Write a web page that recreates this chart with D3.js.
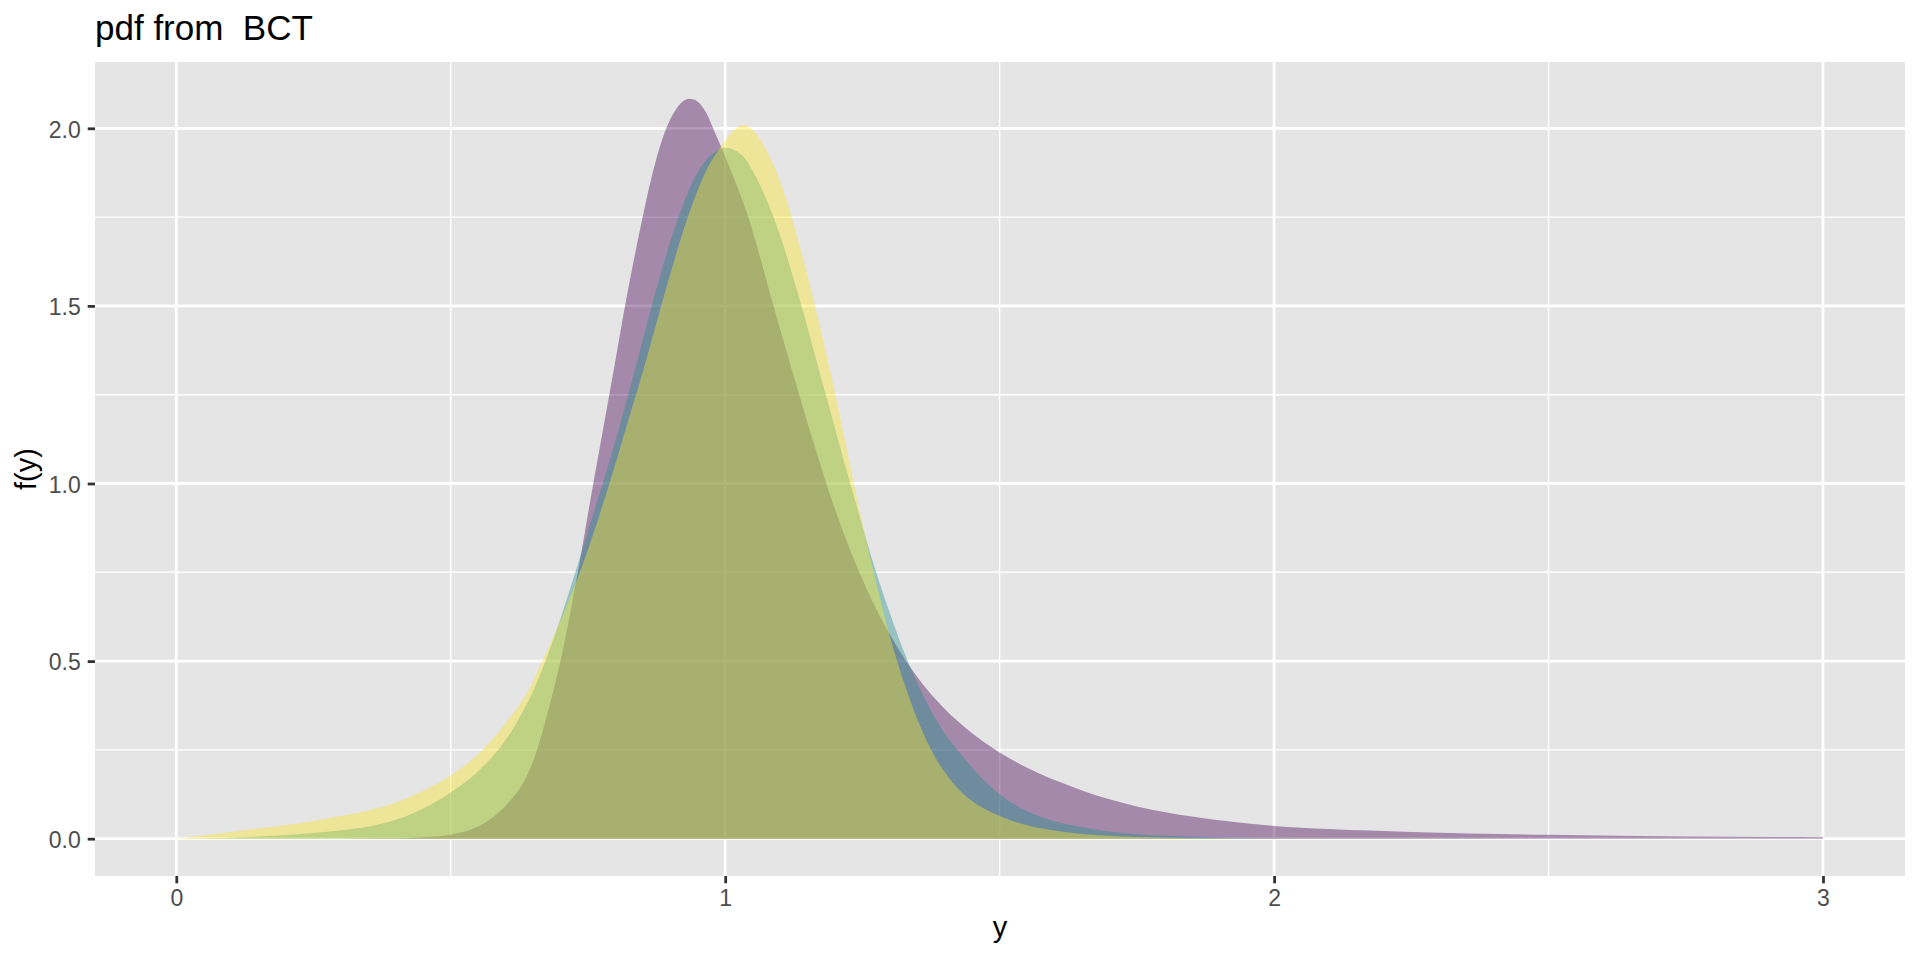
<!DOCTYPE html>
<html>
<head>
<meta charset="utf-8">
<script src="https://cdn.jsdelivr.net/npm/d3@7"></script>
<style>
  html, body { margin: 0; padding: 0; background: #ffffff; }
  svg { display: block; font-family: "Liberation Sans", Arial, Helvetica, sans-serif; }
</style>
</head>
<body>
<svg id="chart" width="1920" height="960"></svg>
<script>
// ---- data ----
const seriesNames = ["purple", "teal", "yellow"];
const seriesColors = ["#440154", "#21908C", "#FDE725"];

const purpleX = [0, 0.3, 0.4, 0.45, 0.5, 0.55, 0.585, 0.609, 0.635, 0.655, 0.68, 0.70, 0.7315, 0.754, 0.776, 0.797, 0.8175, 0.8455, 0.8655, 0.8855, 0.905, 0.92, 0.935, 0.95, 0.965, 0.978, 1.0, 1.042, 1.088, 1.127, 1.16, 1.195, 1.25, 1.3, 1.35, 1.4, 1.45, 1.5, 1.55, 1.6, 1.65, 1.7, 1.75, 1.8, 1.9, 2.0, 2.1, 2.25, 2.5, 2.75, 3.0];
const purpleY = [0, 0, 0.001, 0.004, 0.011, 0.034, 0.071, 0.108, 0.165, 0.24, 0.375, 0.5, 0.75, 0.95, 1.14, 1.32, 1.5, 1.72, 1.86, 1.97, 2.04, 2.072, 2.083, 2.075, 2.045, 2.0, 1.92, 1.75, 1.5, 1.291, 1.12, 0.95, 0.73, 0.575, 0.455, 0.365, 0.297, 0.243, 0.2, 0.165, 0.136, 0.111, 0.091, 0.075, 0.052, 0.036, 0.027, 0.019, 0.011, 0.0065, 0.004];

const tealX = [0, 0.1, 0.2, 0.25, 0.3, 0.35, 0.4, 0.45, 0.5, 0.55, 0.6, 0.625, 0.65, 0.675, 0.70, 0.726, 0.763, 0.80, 0.827, 0.866, 0.915, 0.942, 0.96, 0.98, 1.0, 1.03, 1.057, 1.088, 1.139, 1.176, 1.237, 1.275, 1.30, 1.33, 1.36, 1.39, 1.42, 1.45, 1.5, 1.55, 1.6, 1.65, 1.7, 1.8, 1.9, 2.0, 2.2, 2.5, 3.0];
const tealY = [0, 0.003, 0.0105, 0.016, 0.0235, 0.034, 0.053, 0.085, 0.13, 0.19, 0.278, 0.34, 0.415, 0.51, 0.62, 0.745, 0.93, 1.12, 1.27, 1.5, 1.75, 1.854, 1.90, 1.932, 1.945, 1.925, 1.86, 1.75, 1.5, 1.291, 0.95, 0.75, 0.635, 0.51, 0.405, 0.32, 0.255, 0.2, 0.125, 0.077, 0.049, 0.032, 0.02, 0.008, 0.0035, 0.0015, 0.0004, 0.0001, 0];

const yellowX = [0, 0.05, 0.1, 0.167, 0.25, 0.3, 0.35, 0.4, 0.45, 0.5, 0.55, 0.6, 0.644, 0.667, 0.70, 0.74, 0.784, 0.82, 0.851, 0.887, 0.933, 0.965, 0.992, 1.01, 1.033, 1.05, 1.069, 1.09, 1.11, 1.13, 1.15, 1.175, 1.2, 1.244, 1.272, 1.30, 1.33, 1.36, 1.39, 1.42, 1.45, 1.5, 1.55, 1.6, 1.65, 1.7, 1.8, 1.9, 2.0, 2.5, 3.0];
const yellowY = [0, 0.009, 0.019, 0.032, 0.05, 0.064, 0.0795, 0.102, 0.135, 0.178, 0.238, 0.325, 0.425, 0.5, 0.615, 0.77, 0.975, 1.16, 1.32, 1.52, 1.755, 1.88, 1.948, 1.985, 2.009, 1.995, 1.955, 1.89, 1.805, 1.70, 1.585, 1.425, 1.255, 0.93, 0.74, 0.57, 0.42, 0.30, 0.21, 0.148, 0.106, 0.064, 0.038, 0.023, 0.0135, 0.008, 0.003, 0.001, 0.0004, 0, 0];

const xTicks = [0, 1, 2, 3];
const xTickLabels = ["0", "1", "2", "3"];
const xMinor = [0.5, 1.5, 2.5];
const yTicks = [0, 0.5, 1, 1.5, 2];
const yTickLabels = ["0.0", "0.5", "1.0", "1.5", "2.0"];
const yMinor = [0.25, 0.75, 1.25, 1.75];

const titleText = "pdf from  BCT";
const xTitle = "y";
const yTitle = "f(y)";

// ---- layout ----
const panel = { left: 95, right: 1905, top: 62, bottom: 876 };
const svg = d3.select("#chart");

const x = d3.scaleLinear().domain([0, 3]).range([176.3, 1823]);
const y = d3.scaleLinear().domain([0, 2]).range([838.7, 128.3]);

const majorW = 2.8, minorW = 1.4;

// panel background
svg.append("rect")
  .attr("x", panel.left).attr("y", panel.top)
  .attr("width", panel.right - panel.left).attr("height", panel.bottom - panel.top)
  .attr("fill", "#E5E5E5");

const grid = svg.append("g");
grid.selectAll(".xmin").data(xMinor).enter().append("line")
  .attr("x1", d => x(d)).attr("x2", d => x(d))
  .attr("y1", panel.top).attr("y2", panel.bottom)
  .attr("stroke", "#fff").attr("stroke-width", minorW);
grid.selectAll(".ymin").data(yMinor).enter().append("line")
  .attr("y1", d => y(d)).attr("y2", d => y(d))
  .attr("x1", panel.left).attr("x2", panel.right)
  .attr("stroke", "#fff").attr("stroke-width", minorW);
grid.selectAll(".xmaj").data(xTicks).enter().append("line")
  .attr("x1", d => x(d)).attr("x2", d => x(d))
  .attr("y1", panel.top).attr("y2", panel.bottom)
  .attr("stroke", "#fff").attr("stroke-width", majorW);
grid.selectAll(".ymaj").data(yTicks).enter().append("line")
  .attr("y1", d => y(d)).attr("y2", d => y(d))
  .attr("x1", panel.left).attr("x2", panel.right)
  .attr("stroke", "#fff").attr("stroke-width", majorW);

// areas
const seriesX = [purpleX, tealX, yellowX];
const seriesY = [purpleY, tealY, yellowY];
const area = d3.area()
  .x(d => x(d[0]))
  .y0(y(0))
  .y1(d => y(d[1]))
  .curve(d3.curveMonotoneX);

const areasG = svg.append("g");
seriesNames.forEach((name, i) => {
  const pts = seriesX[i].map((v, j) => [v, seriesY[i][j]]);
  areasG.append("path")
    .datum(pts)
    .attr("class", "area-" + name)
    .attr("d", area)
    .attr("fill", seriesColors[i])
    .attr("fill-opacity", 0.4)
    .attr("stroke", "none");
});

// axes
const tickLen = 7.3;
const xAxis = d3.axisBottom(x)
  .tickValues(xTicks)
  .tickFormat((d, i) => xTickLabels[i])
  .tickSize(tickLen)
  .tickPadding(6.4);
const gx = svg.append("g").attr("transform", `translate(0,${panel.bottom})`).call(xAxis);
gx.select(".domain").remove();
gx.selectAll(".tick line").attr("stroke", "#333333").attr("stroke-width", majorW);
gx.selectAll(".tick text")
  .attr("fill", "#4D4D4D")
  .style("font-size", "23px")
  .style("font-family", "'Liberation Sans', Arial, sans-serif");

const yAxis = d3.axisLeft(y)
  .tickValues(yTicks)
  .tickFormat((d, i) => yTickLabels[i])
  .tickSize(tickLen)
  .tickPadding(7);
const gy = svg.append("g").attr("transform", `translate(${panel.left},0)`).call(yAxis);
gy.select(".domain").remove();
gy.selectAll(".tick line").attr("stroke", "#333333").attr("stroke-width", majorW);
gy.selectAll(".tick text")
  .attr("fill", "#4D4D4D")
  .attr("dy", "0.38em")
  .style("font-size", "23px")
  .style("font-family", "'Liberation Sans', Arial, sans-serif");

// titles
svg.append("text")
  .attr("x", panel.left).attr("y", 40)
  .attr("fill", "#000")
  .style("font-size", "35px")
  .style("white-space", "pre")
  .attr("xml:space", "preserve")
  .text(titleText);

svg.append("text")
  .attr("x", (panel.left + panel.right) / 2).attr("y", 937)
  .attr("text-anchor", "middle")
  .attr("fill", "#000")
  .style("font-size", "29px")
  .text(xTitle);

svg.append("text")
  .attr("transform", `translate(35.5,${(panel.top + panel.bottom) / 2}) rotate(-90)`)
  .attr("text-anchor", "middle")
  .attr("fill", "#000")
  .style("font-size", "29px")
  .text(yTitle);
</script>
</body>
</html>
